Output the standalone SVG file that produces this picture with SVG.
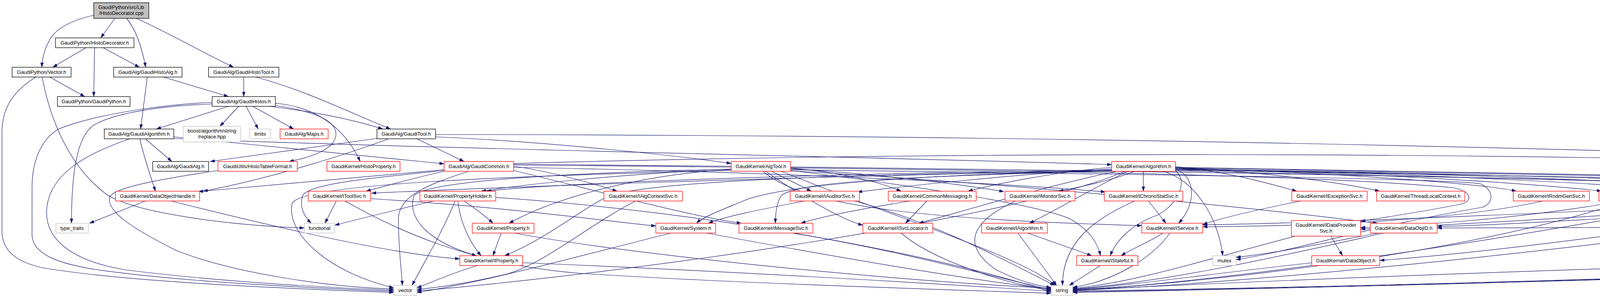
<svg xmlns="http://www.w3.org/2000/svg" width="5120" height="757" viewBox="0 0 5120 757">
<defs>
<marker id="a" viewBox="0 0 12 8" refX="12" refY="4" markerWidth="12" markerHeight="8" markerUnits="userSpaceOnUse" orient="auto"><path d="M0,0 L12,4 L0,8 z" fill="#191970" stroke="#191970" stroke-width="0.5"/></marker>
</defs>
<style>
.nd rect{fill:#fff;stroke-width:1.3}
.b rect{stroke:#000}
.r rect{stroke:#ff0000}
.g rect{stroke:#bfbfbf}
.top rect{fill:#bfbfbf;stroke:#000}
text{font-family:"Liberation Sans",Arial,Helvetica,sans-serif;font-size:13px;text-anchor:middle;fill:#000}
#edges path{fill:none;stroke:#191970;stroke-width:1.2;marker-end:url(#a)}
</style>
<rect width="5120" height="757" fill="#fff"/>
<g id="edges">
<path d="M294,47 C282,63 270,80 258,97"/>
<path d="M240,39 C190,50 148,68 128,100 C114,125 108,150 107,172"/>
<path d="M324,47 C345,72 362,115 373,172"/>
<path d="M349,47 C420,78 520,135 598,172"/>
<path d="M220,122 L135,172"/>
<path d="M242,122 L240,247"/>
<path d="M264,122 L357,172"/>
<path d="M127,197 L217,247"/>
<path d="M92,197 C30,235 5,280 5,340 L5,590 C5,640 40,670 110,685 C350,725 800,740 1008,748"/>
<path d="M108,197 C125,290 170,420 270,495 C340,545 600,578 779,583"/>
<path d="M377,197 L360,330"/>
<path d="M418,197 L585,247"/>
<path d="M624,197 L624,247"/>
<path d="M654,197 C780,230 900,290 1000,330"/>
<path d="M543,266 C430,270 300,285 240,320 C195,350 183,450 183,571"/>
<path d="M543,262 C430,266 250,290 150,330 C100,360 82,420 82,480 L82,600 C82,650 150,675 250,690 C500,725 850,738 1008,745"/>
<path d="M585,272 L400,330"/>
<path d="M611,272 L563,323"/>
<path d="M630,272 L661,330"/>
<path d="M647,272 L752,330"/>
<path d="M690,272 C800,285 900,305 980,330"/>
<path d="M705,264 C800,272 880,320 922,413"/>
<path d="M705,270 C810,285 862,310 860,345 C858,380 800,402 740,413"/>
<path d="M965,354 L538,413"/>
<path d="M445,350 C700,375 1000,405 1137,419"/>
<path d="M358,355 C368,400 385,450 398,489"/>
<path d="M372,355 L440,413"/>
<path d="M445,354 C1000,378 2500,408 2846,421"/>
<path d="M332,355 C230,390 130,440 120,530 C110,620 200,670 320,690 C600,725 900,738 1008,742"/>
<path d="M1067,355 L1188,413"/>
<path d="M1115,350 C1400,362 1750,400 1872,418"/>
<path d="M1115,344 C2200,345 3400,362 4620,400 C4900,410 5113,470 5113,540 C5113,620 5040,670 4900,688 C4400,710 3300,738 2746,748"/>
<path d="M995,355 C900,390 700,455 520,489"/>
<path d="M1137,434 C900,455 650,478 508,490"/>
<path d="M1137,436 C950,455 790,470 775,500 C765,530 780,555 797,571"/>
<path d="M1872,436 C1300,450 770,470 748,520 C730,600 850,700 1008,736"/>
<path d="M3009,426 C3150,440 3250,470 3320,489"/>
<path d="M3009,428 C3250,440 3450,470 3532,489"/>
<path d="M3009,430 C3400,440 3800,470 3882,489"/>
<path d="M3009,431 C3500,440 4000,475 4100,489"/>
<path d="M3009,432 C3600,440 4200,475 4318,489"/>
<path d="M3009,433 C3700,440 4450,475 4578,489"/>
<path d="M3009,434 C3800,440 4700,475 4830,489"/>
<path d="M2927,438 L2927,489"/>
<path d="M2905,438 C2850,460 2760,480 2710,489"/>
<path d="M2846,432 C2600,445 2300,478 2195,491"/>
<path d="M2846,428 C2700,440 2550,470 2478,489"/>
<path d="M2846,434 C2000,446 1400,470 1245,489"/>
<path d="M2846,436 C2000,452 1200,482 951,494"/>
<path d="M2887,438 C2800,480 2700,540 2635,571"/>
<path d="M3009,432 C3060,450 3065,520 3017,571"/>
<path d="M2977,438 C3060,460 3120,560 3130,654"/>
<path d="M2860,438 C2700,470 2500,530 2352,571"/>
<path d="M2846,437 C2400,450 2050,460 2000,500 C1988,520 1985,545 1985,571"/>
<path d="M2846,436 C2400,445 2000,470 1900,515 C1840,540 1800,555 1783,571"/>
<path d="M2846,438 C2200,445 1700,460 1560,500 C1480,540 1400,610 1292,654"/>
<path d="M3009,436 C3050,470 3000,540 2950,555 C2900,575 2860,610 2842,654"/>
<path d="M3009,428 C3800,440 4500,450 4620,456 C4850,465 5048,480 5048,505 C5048,535 4950,555 4850,565 C4400,585 3900,582 3679,583"/>
<path d="M3009,429 C3800,445 4500,455 4620,459 C4900,470 5058,490 5058,524 C5058,560 4950,610 4853,654"/>
<path d="M3009,435 C3800,448 4600,458 4740,480 C4775,495 4770,515 4740,525 C4400,560 3900,640 3532,666"/>
<path d="M3009,437 C3900,455 4600,470 4700,476 C4950,485 5073,497 5073,543 C5073,600 5037,650 4920,684 C4700,700 3400,736 2746,746"/>
<path d="M2880,438 C2600,560 1600,700 1067,744"/>
<path d="M1975,438 L2077,489"/>
<path d="M1872,432 C1600,445 1350,470 1232,489"/>
<path d="M1872,434 C1700,440 1450,490 1303,571"/>
<path d="M1960,438 C2050,500 2150,560 2209,576"/>
<path d="M1953,438 C2050,520 2300,560 2923,577"/>
<path d="M2024,436 C2300,470 2650,520 2740,560 C2790,590 2810,620 2817,654"/>
<path d="M2024,430 C2150,440 2250,465 2307,489"/>
<path d="M2024,432 C2250,445 2450,470 2570,490"/>
<path d="M2024,437 C2600,470 3200,530 3527,571"/>
<path d="M2000,438 C2300,560 2600,650 2703,730"/>
<path d="M1872,433 C1500,440 1100,460 1060,500 C1040,560 1100,620 1220,654"/>
<path d="M2024,434 C2800,445 3700,455 3790,470 C3825,485 3825,520 3795,530 C3500,580 3300,645 3164,664"/>
<path d="M1137,438 C1060,455 990,475 937,489"/>
<path d="M1315,425 C1420,440 1520,470 1580,489"/>
<path d="M1315,428 C2000,440 2600,470 2830,491"/>
<path d="M1315,436 C1500,480 1750,550 1898,571"/>
<path d="M1315,422 C2200,430 3300,440 3720,480 C3770,490 3770,515 3740,522 C3650,540 3550,555 3483,566"/>
<path d="M1315,420 C2500,430 4200,455 4480,478 C4520,490 4520,512 4490,518 C4100,540 3400,570 3079,575"/>
<path d="M1315,418 C2500,385 3800,392 4620,415 C4850,425 5057,470 5057,530 C5057,600 4990,665 4850,685 C4300,712 3300,737 2746,744"/>
<path d="M1200,438 C1100,470 1020,500 1020,560 C1020,640 1028,690 1030,730"/>
<path d="M1110,514 C1000,540 900,565 857,576"/>
<path d="M1165,514 C1130,600 1080,680 1055,730"/>
<path d="M1188,514 C1220,535 1245,555 1262,571"/>
<path d="M1172,514 C1180,580 1210,630 1232,654"/>
<path d="M1269,505 C1800,540 2400,650 2691,747"/>
<path d="M861,514 L832,571"/>
<path d="M949,508 C1300,530 1550,565 1679,578"/>
<path d="M883,514 C1000,580 1200,680 1500,700 C1900,725 2400,740 2691,750"/>
<path d="M1627,514 C1500,580 1400,670 1300,700 C1200,725 1100,738 1067,740"/>
<path d="M2060,514 C1950,535 1850,555 1813,571"/>
<path d="M2187,514 C2400,570 2600,680 2700,730"/>
<path d="M2373,514 L2318,571"/>
<path d="M2330,514 C2200,535 2100,555 2050,571"/>
<path d="M2600,514 C2500,560 2450,620 2550,690 C2620,725 2670,733 2691,735"/>
<path d="M2905,514 C2800,560 2720,620 2720,730"/>
<path d="M2940,514 L2985,571"/>
<path d="M3330,514 C3200,540 3120,560 3079,574"/>
<path d="M3950,514 C3700,570 3300,578 3079,580"/>
<path d="M4150,514 C3900,560 3600,578 3483,582"/>
<path d="M4160,514 C3800,640 3100,725 2746,741"/>
<path d="M4367,514 C4100,570 3200,720 2746,742"/>
<path d="M4590,514 C4200,550 3700,575 3483,586"/>
<path d="M4824,512 C4400,540 3900,575 3679,579"/>
<path d="M4867,514 C4400,600 3300,720 2746,743"/>
<path d="M1283,596 L1262,654"/>
<path d="M1317,596 C1600,650 2300,720 2691,737"/>
<path d="M1808,596 C2100,650 2500,720 2691,739"/>
<path d="M1718,596 C1500,650 1250,720 1067,748"/>
<path d="M2028,596 C2300,640 2550,710 2691,741"/>
<path d="M2307,596 C2380,660 2550,720 2691,743"/>
<path d="M2606,596 L2705,730"/>
<path d="M2631,596 L2795,654"/>
<path d="M2977,596 C2950,615 2900,635 2870,654"/>
<path d="M2995,596 C2950,660 2850,720 2746,735"/>
<path d="M3407,604 L3437,654"/>
<path d="M3316,604 C3100,660 2900,725 2746,737"/>
<path d="M3543,596 C3300,650 3000,720 2746,739"/>
<path d="M3530,596 C3400,620 3250,650 3164,658"/>
<path d="M1223,679 C1150,700 1100,725 1067,736"/>
<path d="M1338,672 C1800,690 2400,725 2691,745"/>
<path d="M2817,679 L2737,730"/>
<path d="M3358,672 C3100,700 2900,730 2746,740"/>
<path d="M4704,672 C4200,680 3300,715 2746,742"/>
<path d="M372,514 L229,571"/>
<path d="M438,514 C700,580 1000,650 1177,662"/>
<path d="M558,436 C400,460 290,480 280,505 C275,540 330,580 450,640 C600,700 850,735 1008,739"/>
</g>
<g id="n0" class="nd top"><rect x="240" y="7" width="141" height="40"/><text x="310.5" y="23">GaudiPython/src/Lib</text><text x="310.5" y="38">/HistoDecorator.cpp</text></g>
<g id="n1" class="nd b"><rect x="142" y="97" width="201" height="25"/><text x="242.5" y="114">GaudiPython/HistoDecorator.h</text></g>
<g id="n2" class="nd b"><rect x="31" y="172" width="151" height="25"/><text x="106.5" y="189">GaudiPython/Vector.h</text></g>
<g id="n3" class="nd b"><rect x="291" y="172" width="175" height="25"/><text x="378.5" y="189">GaudiAlg/GaudiHistoAlg.h</text></g>
<g id="n4" class="nd b"><rect x="534" y="172" width="180" height="25"/><text x="624" y="189">GaudiAlg/GaudiHistoTool.h</text></g>
<g id="n5" class="nd b"><rect x="147" y="247" width="186" height="25"/><text x="240" y="264">GaudiPython/GaudiPython.h</text></g>
<g id="n6" class="nd b"><rect x="543" y="247" width="162" height="25"/><text x="624" y="264">GaudiAlg/GaudiHistos.h</text></g>
<g id="n7" class="nd b"><rect x="267" y="330" width="178" height="25"/><text x="356" y="347">GaudiAlg/GaudiAlgorithm.h</text></g>
<g id="n8" class="nd g"><rect x="469" y="323" width="147" height="40"/><text x="542.5" y="339">boost/algorithm/string</text><text x="542.5" y="354">/replace.hpp</text></g>
<g id="n9" class="nd g"><rect x="639" y="330" width="54" height="25"/><text x="666" y="347">limits</text></g>
<g id="n10" class="nd r"><rect x="717" y="330" width="123" height="25"/><text x="778.5" y="347">GaudiAlg/Maps.h</text></g>
<g id="n11" class="nd b"><rect x="965" y="330" width="150" height="25"/><text x="1040" y="347">GaudiAlg/GaudiTool.h</text></g>
<g id="n12" class="nd b"><rect x="391" y="413" width="143" height="25"/><text x="462.5" y="430">GaudiAlg/GaudiAlg.h</text></g>
<g id="n13" class="nd r"><rect x="558" y="413" width="203" height="25"/><text x="659.5" y="430">GaudiUtils/HistoTableFormat.h</text></g>
<g id="n14" class="nd r"><rect x="837" y="413" width="187" height="25"/><text x="930.5" y="430">GaudiKernel/HistoProperty.h</text></g>
<g id="n15" class="nd r"><rect x="1137" y="413" width="178" height="25"/><text x="1226" y="430">GaudiAlg/GaudiCommon.h</text></g>
<g id="n16" class="nd r"><rect x="1872" y="413" width="152" height="25"/><text x="1948" y="430">GaudiKernel/AlgTool.h</text></g>
<g id="n17" class="nd r"><rect x="2846" y="413" width="163" height="25"/><text x="2927.5" y="430">GaudiKernel/Algorithm.h</text></g>
<g id="n18" class="nd r"><rect x="296" y="489" width="215" height="25"/><text x="403.5" y="506">GaudiKernel/DataObjectHandle.h</text></g>
<g id="n19" class="nd r"><rect x="789" y="489" width="160" height="25"/><text x="869" y="506">GaudiKernel/IToolSvc.h</text></g>
<g id="n20" class="nd r"><rect x="1075" y="489" width="194" height="25"/><text x="1172" y="506">GaudiKernel/PropertyHolder.h</text></g>
<g id="n21" class="nd r"><rect x="1546" y="489" width="201" height="25"/><text x="1646.5" y="506">GaudiKernel/IAlgContextSvc.h</text></g>
<g id="n22" class="nd r"><rect x="2023" y="489" width="177" height="25"/><text x="2111.5" y="506">GaudiKernel/IAuditorSvc.h</text></g>
<g id="n23" class="nd r"><rect x="2274" y="489" width="225" height="25"/><text x="2386.5" y="506">GaudiKernel/CommonMessaging.h</text></g>
<g id="n24" class="nd r"><rect x="2573" y="489" width="179" height="25"/><text x="2662.5" y="506">GaudiKernel/IMonitorSvc.h</text></g>
<g id="n25" class="nd r"><rect x="2827" y="489" width="201" height="25"/><text x="2927.5" y="506">GaudiKernel/IChronoStatSvc.h</text></g>
<g id="n26" class="nd r"><rect x="3307" y="489" width="193" height="25"/><text x="3403.5" y="506">GaudiKernel/IExceptionSvc.h</text></g>
<g id="n27" class="nd r"><rect x="3524" y="489" width="226" height="25"/><text x="3637" y="506">GaudiKernel/ThreadLocalContext.h</text></g>
<g id="n28" class="nd r"><rect x="3874" y="489" width="195" height="25"/><text x="3971.5" y="506">GaudiKernel/IRndmGenSvc.h</text></g>
<g id="n29" class="nd r"><rect x="4093" y="489" width="195" height="25"/><text x="4190.5" y="506">GaudiKernel/IHistogramSvc.h</text></g>
<g id="n30" class="nd r"><rect x="4311" y="489" width="185" height="25"/><text x="4403.5" y="506">GaudiKernel/ITimelineSvc.h</text></g>
<g id="n31" class="nd r"><rect x="4571" y="489" width="177" height="25"/><text x="4659.5" y="506">GaudiKernel/INTupleSvc.h</text></g>
<g id="n32" class="nd r"><rect x="4824" y="489" width="207" height="25"/><text x="4927.5" y="506">GaudiKernel/IHiveWhiteBoard.h</text></g>
<g id="n33" class="nd g"><rect x="143" y="571" width="83" height="25"/><text x="184.5" y="588">type_traits</text></g>
<g id="n34" class="nd g"><rect x="779" y="571" width="78" height="25"/><text x="818" y="588">functional</text></g>
<g id="n35" class="nd r"><rect x="1209" y="571" width="158" height="25"/><text x="1288" y="588">GaudiKernel/Property.h</text></g>
<g id="n36" class="nd r"><rect x="1679" y="571" width="153" height="25"/><text x="1755.5" y="588">GaudiKernel/System.h</text></g>
<g id="n37" class="nd r"><rect x="1892" y="571" width="189" height="25"/><text x="1986.5" y="588">GaudiKernel/IMessageSvc.h</text></g>
<g id="n38" class="nd r"><rect x="2209" y="571" width="179" height="25"/><text x="2298.5" y="588">GaudiKernel/ISvcLocator.h</text></g>
<g id="n39" class="nd r"><rect x="2513" y="571" width="168" height="25"/><text x="2597" y="588">GaudiKernel/IAlgorithm.h</text></g>
<g id="n40" class="nd r"><rect x="2923" y="571" width="156" height="25"/><text x="3001" y="588">GaudiKernel/IService.h</text></g>
<g id="n41" class="nd r"><rect x="3306" y="564" width="177" height="40"/><text x="3394.5" y="580">GaudiKernel/IDataProvider</text><text x="3394.5" y="595">Svc.h</text></g>
<g id="n42" class="nd r"><rect x="3508" y="571" width="171" height="25"/><text x="3593.5" y="588">GaudiKernel/DataObjID.h</text></g>
<g id="n43" class="nd r"><rect x="1177" y="654" width="161" height="25"/><text x="1257.5" y="671">GaudiKernel/IProperty.h</text></g>
<g id="n44" class="nd r"><rect x="2756" y="654" width="157" height="25"/><text x="2834.5" y="671">GaudiKernel/IStateful.h</text></g>
<g id="n45" class="nd g"><rect x="3105" y="654" width="59" height="25"/><text x="3134.5" y="671">mutex</text></g>
<g id="n46" class="nd r"><rect x="3358" y="654" width="174" height="25"/><text x="3445" y="671">GaudiKernel/DataObject.h</text></g>
<g id="n47" class="nd r"><rect x="4704" y="654" width="202" height="25"/><text x="4805" y="671">GaudiKernel/IConversionSvc.h</text></g>
<g id="n48" class="nd g"><rect x="1008" y="730" width="59" height="25"/><text x="1037.5" y="747">vector</text></g>
<g id="n49" class="nd g"><rect x="2691" y="730" width="55" height="25"/><text x="2718.5" y="747">string</text></g>
</svg>
